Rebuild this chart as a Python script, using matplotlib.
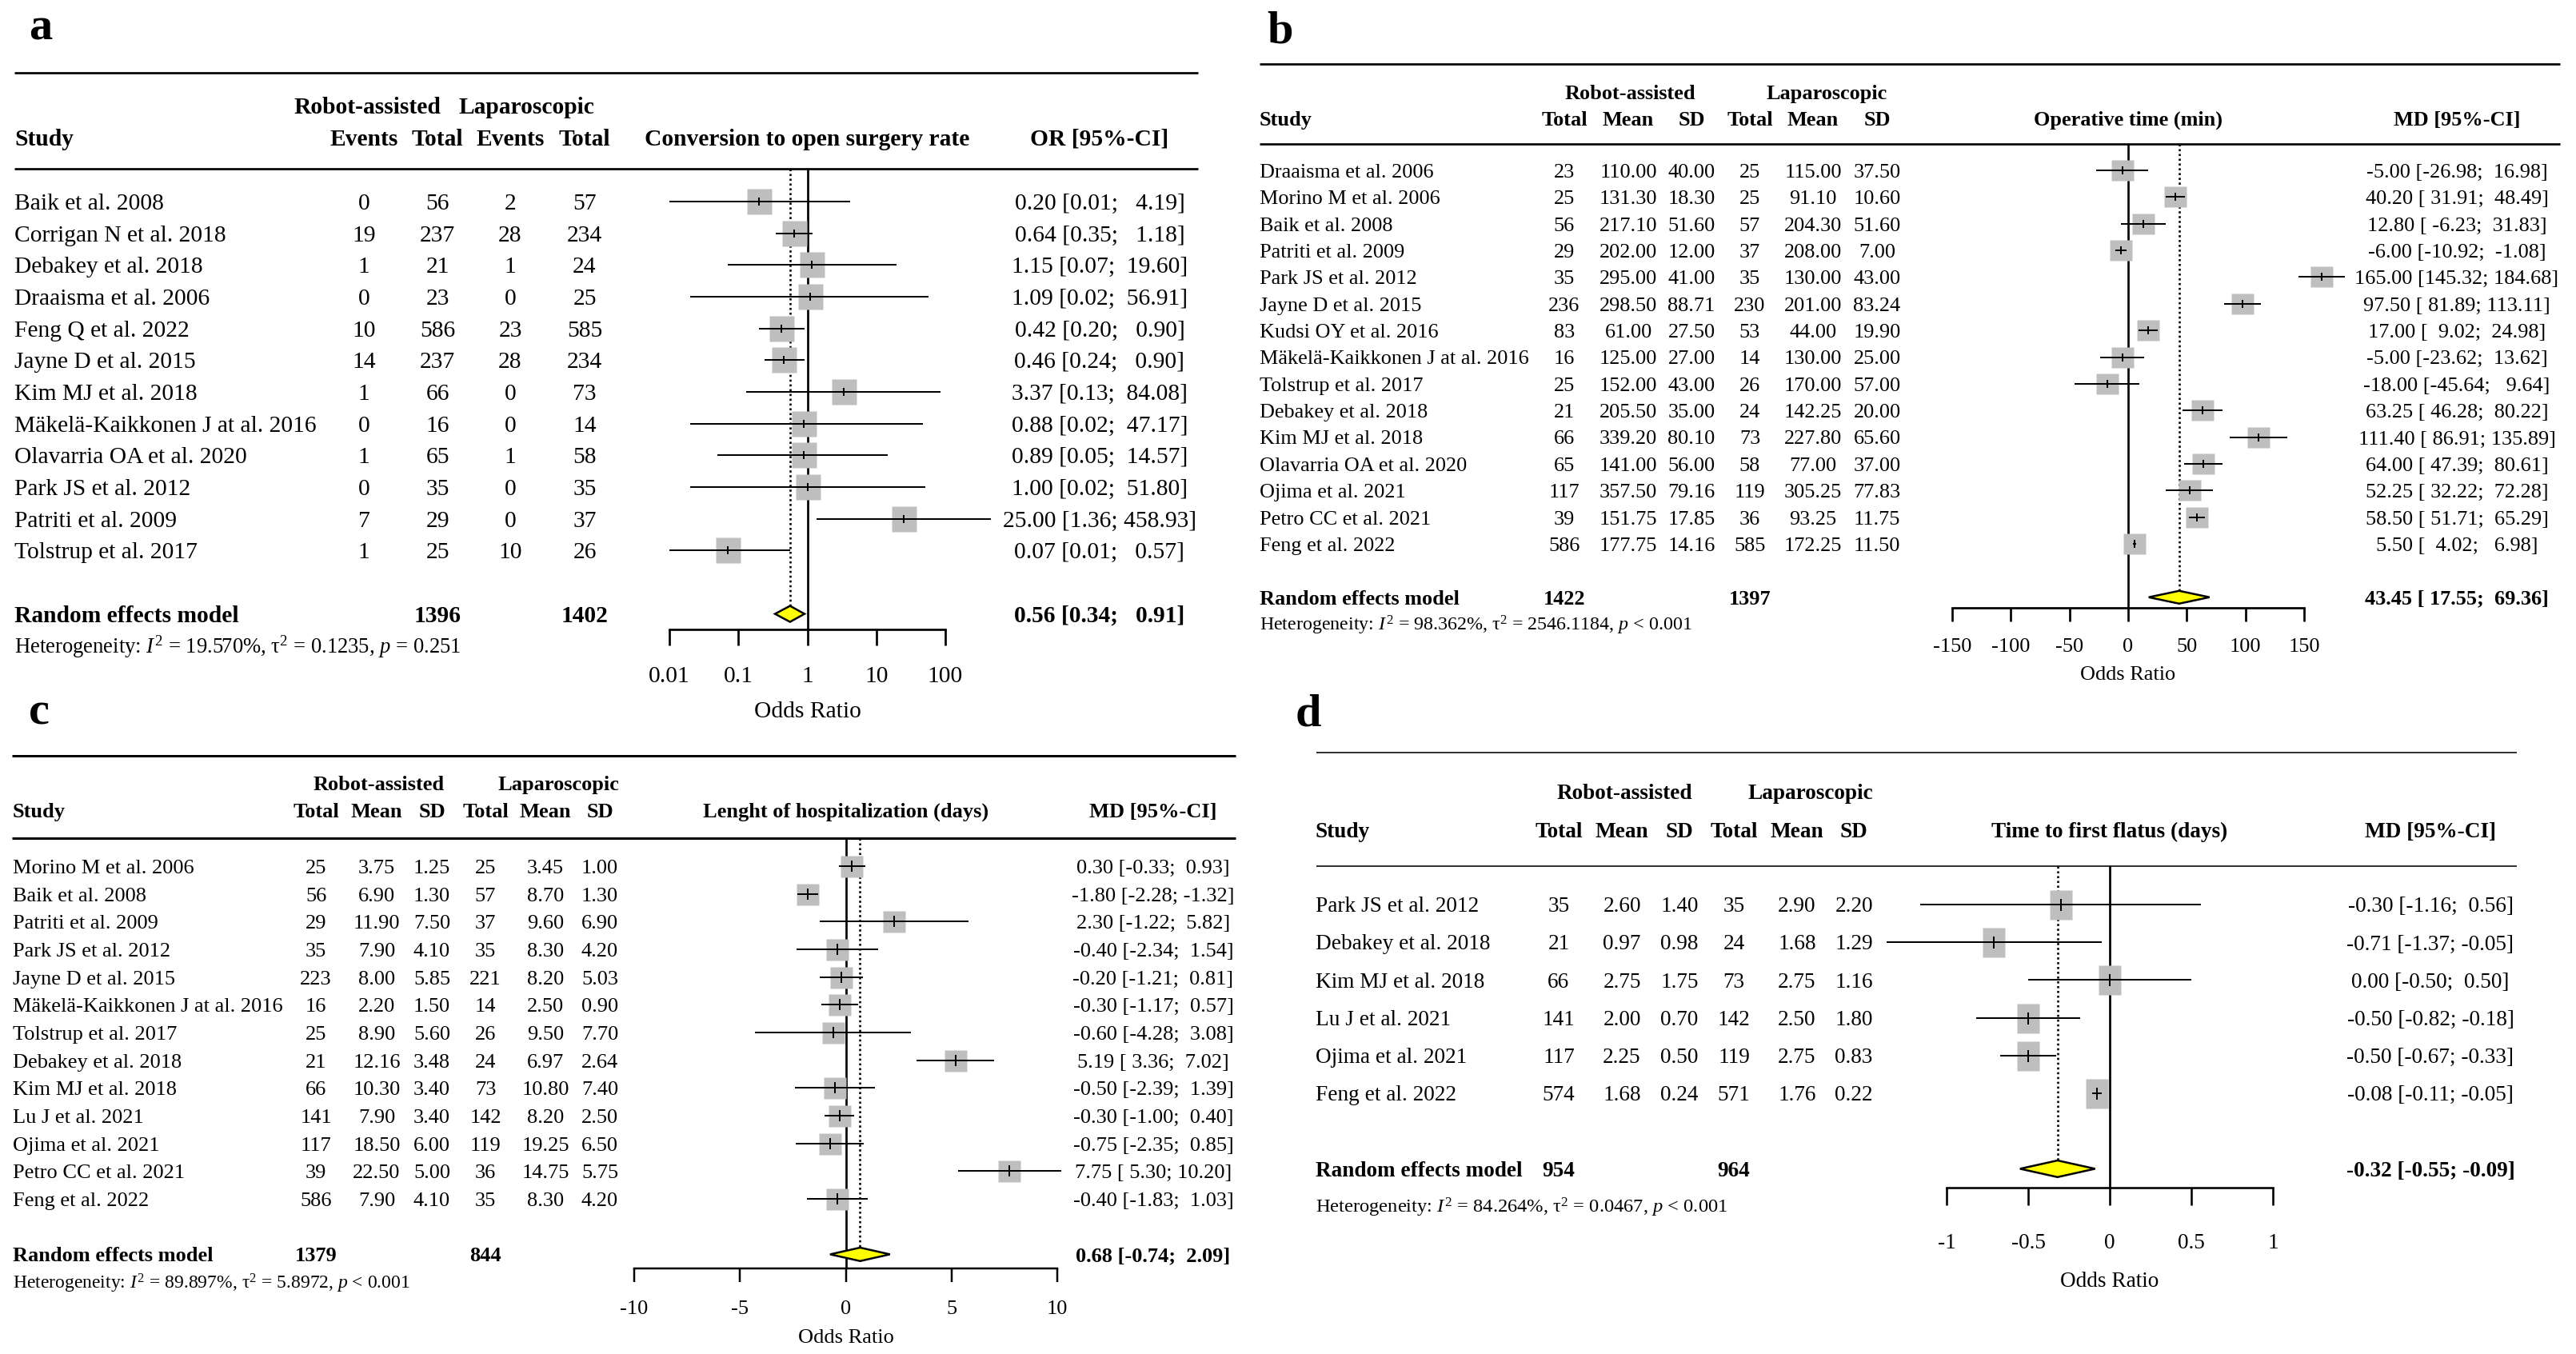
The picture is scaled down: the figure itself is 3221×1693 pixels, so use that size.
import numpy as np
import matplotlib
matplotlib.use('Agg')
import matplotlib.pyplot as plt
from matplotlib.ticker import NullLocator

W, H, DPI = 3221, 1693, 100
PX = 72.0 / DPI  # one pixel in points

plt.rcParams['font.family'] = ['Liberation Serif', 'DejaVu Serif']
plt.rcParams['mathtext.fontset'] = 'custom'
plt.rcParams['mathtext.rm'] = 'Liberation Serif'
plt.rcParams['mathtext.it'] = 'Liberation Serif:italic'
plt.rcParams['mathtext.bf'] = 'Liberation Serif:bold'

GREY = '#BEBEBE'
YELLOW = '#FFFF00'

# ---- a: conversion to open surgery rate
a_study = ['Baik et al. 2008', 'Corrigan N et al. 2018', 'Debakey et al. 2018', 'Draaisma et al. 2006',
           'Feng Q et al. 2022', 'Jayne D et al. 2015', 'Kim MJ et al. 2018',
           'Mäkelä-Kaikkonen J at al. 2016', 'Olavarria OA et al. 2020', 'Park JS et al. 2012',
           'Patriti et al. 2009', 'Tolstrup et al. 2017']
a_ev_r = [0, 19, 1, 0, 10, 14, 1, 0, 1, 0, 7, 1]
a_n_r = [56, 237, 21, 23, 586, 237, 66, 16, 65, 35, 29, 25]
a_ev_l = [2, 28, 1, 0, 23, 28, 0, 0, 1, 0, 0, 10]
a_n_l = [57, 234, 24, 25, 585, 234, 73, 14, 58, 35, 37, 26]
a_or = [0.20, 0.64, 1.15, 1.09, 0.42, 0.46, 3.37, 0.88, 0.89, 1.00, 25.00, 0.07]
a_lo = [0.01, 0.35, 0.07, 0.02, 0.20, 0.24, 0.13, 0.02, 0.05, 0.02, 1.36, 0.01]
a_hi = [4.19, 1.18, 19.60, 56.91, 0.90, 0.90, 84.08, 47.17, 14.57, 51.80, 458.93, 0.57]
a_pooled = [0.56, 0.34, 0.91]
a_het = ('19.570', '0.1235', '= 0.251')

# ---- b: operative time
b_study = ['Draaisma et al. 2006', 'Morino M et al. 2006', 'Baik et al. 2008', 'Patriti et al. 2009',
           'Park JS et al. 2012', 'Jayne D et al. 2015', 'Kudsi OY et al. 2016',
           'Mäkelä-Kaikkonen J at al. 2016', 'Tolstrup et al. 2017', 'Debakey et al. 2018',
           'Kim MJ et al. 2018', 'Olavarria OA et al. 2020', 'Ojima et al. 2021',
           'Petro CC et al. 2021', 'Feng et al. 2022']
b_n_r = [23, 25, 56, 29, 35, 236, 83, 16, 25, 21, 66, 65, 117, 39, 586]
b_m_r = [110.00, 131.30, 217.10, 202.00, 295.00, 298.50, 61.00, 125.00, 152.00, 205.50, 339.20,
         141.00, 357.50, 151.75, 177.75]
b_sd_r = [40.00, 18.30, 51.60, 12.00, 41.00, 88.71, 27.50, 27.00, 43.00, 35.00, 80.10, 56.00,
          79.16, 17.85, 14.16]
b_n_l = [25, 25, 57, 37, 35, 230, 53, 14, 26, 24, 73, 58, 119, 36, 585]
b_m_l = [115.00, 91.10, 204.30, 208.00, 130.00, 201.00, 44.00, 130.00, 170.00, 142.25, 227.80,
         77.00, 305.25, 93.25, 172.25]
b_sd_l = [37.50, 10.60, 51.60, 7.00, 43.00, 83.24, 19.90, 25.00, 57.00, 20.00, 65.60, 37.00,
          77.83, 11.75, 11.50]
b_md = [-5.00, 40.20, 12.80, -6.00, 165.00, 97.50, 17.00, -5.00, -18.00, 63.25, 111.40, 64.00,
        52.25, 58.50, 5.50]
b_lo = [-26.98, 31.91, -6.23, -10.92, 145.32, 81.89, 9.02, -23.62, -45.64, 46.28, 86.91, 47.39,
        32.22, 51.71, 4.02]
b_hi = [16.98, 48.49, 31.83, -1.08, 184.68, 113.11, 24.98, 13.62, 9.64, 80.22, 135.89, 80.61,
        72.28, 65.29, 6.98]
b_pooled = [43.45, 17.55, 69.36]
b_het = ('98.362', '2546.1184', '< 0.001')

# ---- c: length of hospitalization
c_study = ['Morino M et al. 2006', 'Baik et al. 2008', 'Patriti et al. 2009', 'Park JS et al. 2012',
           'Jayne D et al. 2015', 'Mäkelä-Kaikkonen J at al. 2016', 'Tolstrup et al. 2017',
           'Debakey et al. 2018', 'Kim MJ et al. 2018', 'Lu J et al. 2021', 'Ojima et al. 2021',
           'Petro CC et al. 2021', 'Feng et al. 2022']
c_n_r = [25, 56, 29, 35, 223, 16, 25, 21, 66, 141, 117, 39, 586]
c_m_r = [3.75, 6.90, 11.90, 7.90, 8.00, 2.20, 8.90, 12.16, 10.30, 7.90, 18.50, 22.50, 7.90]
c_sd_r = [1.25, 1.30, 7.50, 4.10, 5.85, 1.50, 5.60, 3.48, 3.40, 3.40, 6.00, 5.00, 4.10]
c_n_l = [25, 57, 37, 35, 221, 14, 26, 24, 73, 142, 119, 36, 35]
c_m_l = [3.45, 8.70, 9.60, 8.30, 8.20, 2.50, 9.50, 6.97, 10.80, 8.20, 19.25, 14.75, 8.30]
c_sd_l = [1.00, 1.30, 6.90, 4.20, 5.03, 0.90, 7.70, 2.64, 7.40, 2.50, 6.50, 5.75, 4.20]
c_md = [0.30, -1.80, 2.30, -0.40, -0.20, -0.30, -0.60, 5.19, -0.50, -0.30, -0.75, 7.75, -0.40]
c_lo = [-0.33, -2.28, -1.22, -2.34, -1.21, -1.17, -4.28, 3.36, -2.39, -1.00, -2.35, 5.30, -1.83]
c_hi = [0.93, -1.32, 5.82, 1.54, 0.81, 0.57, 3.08, 7.02, 1.39, 0.40, 0.85, 10.20, 1.03]
c_pooled = [0.68, -0.74, 2.09]
c_het = ('89.897', '5.8972', '< 0.001')

# ---- d: time to first flatus
d_study = ['Park JS et al. 2012', 'Debakey et al. 2018', 'Kim MJ et al. 2018', 'Lu J et al. 2021',
           'Ojima et al. 2021', 'Feng et al. 2022']
d_n_r = [35, 21, 66, 141, 117, 574]
d_m_r = [2.60, 0.97, 2.75, 2.00, 2.25, 1.68]
d_sd_r = [1.40, 0.98, 1.75, 0.70, 0.50, 0.24]
d_n_l = [35, 24, 73, 142, 119, 571]
d_m_l = [2.90, 1.68, 2.75, 2.50, 2.75, 1.76]
d_sd_l = [2.20, 1.29, 1.16, 1.80, 0.83, 0.22]
d_md = [-0.30, -0.71, 0.00, -0.50, -0.50, -0.08]
d_lo = [-1.16, -1.37, -0.50, -0.82, -0.67, -0.11]
d_hi = [0.56, -0.05, 0.50, -0.18, -0.33, -0.05]
d_pooled = [-0.32, -0.55, -0.09]
d_het = ('84.264', '0.0467', '< 0.001')

# layout of each panel, in pixels of the final image (y from the top)
LAY_A = dict(label='a', label_xy=(36, 50), rule_x=(18, 1498), rules=(91, 211), rule_lw=2.7,
             groups=[('Robot-assisted', 459), ('Laparoscopic', 658)], grp_y=132, head_y=172,
             col_names=['Events', 'Total', 'Events', 'Total'], col_x=[455, 547, 638, 731],
             total_cols=[1, 3], title='Conversion to open surgery rate', ci_head='OR [95%-CI]',
             ci_x=1375, study_x=18, row0=252, sp=39.66, fs=29.5, het_fs=26.6,
             fx=(837, 1182), xlim=(0.01, 100), log=True, ticks=[0.01, 0.1, 1, 10, 100],
             ticklabels=['0.01', '0.1', '1', '10', '100'], axis_y=787, tick_len=20,
             tick_lab_y=843, xlab_y=887, axis_lw=2.7, sq=(31, 32), dh=10, tick_h=10)
LAY_B = dict(label='b', label_xy=(1584, 53), rule_x=(1575, 3201), rules=(80, 180), rule_lw=2.7,
             groups=[('Robot-assisted', 2038), ('Laparoscopic', 2284)], grp_y=115, head_y=148,
             col_names=['Total', 'Mean', 'SD', 'Total', 'Mean', 'SD'],
             col_x=[1956, 2036, 2115, 2188, 2267, 2347], total_cols=[0, 3],
             title='Operative time (min)', ci_head='MD [95%-CI]', ci_x=3072, study_x=1575,
             row0=213, sp=33.36, fs=26.2, het_fs=24, fx=(2441, 2881), xlim=(-150, 150), log=False,
             ticks=[-150, -100, -50, 0, 50, 100, 150],
             ticklabels=['-150', '-100', '-50', '0', '50', '100', '150'], axis_y=760, tick_len=17,
             tick_lab_y=807, xlab_y=841, axis_lw=2.7, sq=(28, 26), dh=8, tick_h=10)
LAY_C = dict(label='c', label_xy=(36, 906), rule_x=(15, 1545), rules=(945, 1048), rule_lw=3.0,
             groups=[('Robot-assisted', 474), ('Laparoscopic', 698)], grp_y=979, head_y=1013,
             col_names=['Total', 'Mean', 'SD', 'Total', 'Mean', 'SD'],
             col_x=[395, 471, 540, 607, 682, 750], total_cols=[0, 3],
             title='Lenght of hospitalization (days)', ci_head='MD [95%-CI]', ci_x=1442,
             study_x=16, row0=1083, sp=34.67, fs=26.4, het_fs=23.6, fx=(793, 1322),
             xlim=(-10, 10), log=False, ticks=[-10, -5, 0, 5, 10],
             ticklabels=['-10', '-5', '0', '5', '10'], axis_y=1586, tick_len=17,
             tick_lab_y=1635, xlab_y=1670, axis_lw=2.5, sq=(28, 27), dh=8.4, tick_h=14)
LAY_D = dict(label='d', label_xy=(1620, 908), rule_x=(1646, 3147), rules=(941, 1083), rule_lw=1.6,
             groups=[('Robot-assisted', 2031), ('Laparoscopic', 2264)], grp_y=990, head_y=1038,
             col_names=['Total', 'Mean', 'SD', 'Total', 'Mean', 'SD'],
             col_x=[1949, 2028, 2100, 2168, 2247, 2318], total_cols=[0, 3],
             title='Time to first flatus (days)', ci_head='MD [95%-CI]', ci_x=3039,
             study_x=1645, row0=1131, sp=47.2, fs=27.3, het_fs=24.5, fx=(2434, 2842),
             xlim=(-1, 1), log=False, ticks=[-1, -0.5, 0, 0.5, 1],
             ticklabels=['-1', '-0.5', '0', '0.5', '1'], axis_y=1485, tick_len=22,
             tick_lab_y=1551, xlab_y=1600, axis_lw=2.6, sq=(28, 37), dh=10.4, tick_h=15)

fig = plt.figure(figsize=(W / DPI, H / DPI), dpi=DPI)
bg = fig.add_axes([0, 0, 1, 1])
bg.set_xlim(0, W)
bg.set_ylim(H, 0)
bg.axis('off')


def put(x, y, s, fs, ha='center', bold=False):
    # y = middle of the capitals, pixels from the top
    bg.text(x, y + 0.338 * fs, s, ha=ha, va='baseline', fontsize=fs * PX,
            fontweight='bold' if bold else 'normal')


def fmt_ci(est, lo, hi):
    wl = max(len(f'{v:.2f}') for v in lo)
    wh = max(len(f'{v:.2f}') for v in hi)
    return [f'{e:.2f} [{l:>{wl}.2f}; {h:>{wh}.2f}]' for e, l, h in zip(est, lo, hi)]


def het_text(h):
    i2, tau2, p = h
    return (r'Heterogeneity: $I^2$ = ' + i2 + r'%, $\mathrm{\tau}^2$ = ' + tau2
            + r', $p$ ' + p)


def panel(L, study, columns, est, lo, hi, pooled, het):
    fs = L['fs']
    n = len(study)
    row = lambda i: L['row0'] + L['sp'] * i

    bg.text(L['label_xy'][0], L['label_xy'][1], L['label'], fontsize=42, fontweight='bold',
            ha='left', va='baseline')
    bg.hlines(L['rules'], L['rule_x'][0], L['rule_x'][1], color='black', lw=L['rule_lw'] * PX)

    for name, x in L['groups']:
        put(x, L['grp_y'], name, fs, bold=True)
    put(L['study_x'], L['head_y'], 'Study', fs, ha='left', bold=True)
    for name, x in zip(L['col_names'], L['col_x']):
        put(x, L['head_y'], name, fs, bold=True)
    fx0, fx1 = L['fx']
    mid = (fx0 + fx1) / 2
    put(mid, L['head_y'], L['title'], fs, bold=True)
    put(L['ci_x'], L['head_y'], L['ci_head'], fs, bold=True)

    ci_txt = fmt_ci(list(est) + [pooled[0]], list(lo) + [pooled[1]], list(hi) + [pooled[2]])
    for i in range(n):
        put(L['study_x'], row(i), study[i], fs, ha='left')
        for col, x in zip(columns, L['col_x']):
            put(x, row(i), col[i], fs)
        put(L['ci_x'], row(i), ci_txt[i], fs)

    yr = row(n + 1)
    put(L['study_x'], yr, 'Random effects model', fs, ha='left', bold=True)
    for k in L['total_cols']:
        put(L['col_x'][k], yr, str(sum(int(v) for v in columns[k])), fs, bold=True)
    put(L['ci_x'], yr, ci_txt[-1], fs, bold=True)
    put(L['study_x'], row(n + 2), het_text(het), L['het_fs'], ha='left')

    # forest part: x in effect units, y in row units
    ay, top = L['axis_y'], L['rules'][1]
    ax = fig.add_axes([fx0 / W, 1 - ay / H, (fx1 - fx0) / W, (ay - top) / H])
    ax.patch.set_visible(False)
    if L['log']:
        ax.set_xscale('log')
    ax.set_xlim(L['xlim'])
    ylo, yhi = (ay - L['row0']) / L['sp'], (top - L['row0']) / L['sp']
    ax.set_ylim(ylo, yhi)

    ys = np.arange(n)
    null = 1 if L['log'] else 0
    ax.axvline(null, color='black', lw=2.7 * PX, zorder=1)
    sw, sh = L['sq']
    box = [(-sw / 2, -sh / 2), (sw / 2, -sh / 2), (sw / 2, sh / 2), (-sw / 2, sh / 2), (-sw / 2, -sh / 2)]
    ax.plot(est, ys, ls='none', marker=box, ms=max(sw, sh) * PX, mfc=GREY, mec='none',
            zorder=2, clip_on=False)
    ax.hlines(ys, lo, hi, color='black', lw=2.0 * PX, zorder=3, clip_on=False)
    ax.plot(est, ys, ls='none', marker='|', ms=L['tick_h'] * PX, mec='black', mew=2.0 * PX,
            zorder=4, clip_on=False)

    e, l, h = pooled
    dh = L['dh'] / L['sp']
    ax.fill([l, e, h, e], [n + 1, n + 1 - dh, n + 1, n + 1 + dh], fc=YELLOW, ec='black',
            lw=2.5 * PX, zorder=4, clip_on=False)
    ax.plot([e, e], [yhi, n + 1 - dh], color='black', lw=2.6 * PX, ls=(0, (1, 1.3)), zorder=1)

    for s in ['top', 'right', 'left']:
        ax.spines[s].set_visible(False)
    ax.spines['bottom'].set_linewidth(L['axis_lw'] * PX)
    ax.set_yticks([])
    ax.set_xticks(L['ticks'], labels=L['ticklabels'])
    ax.xaxis.set_minor_locator(NullLocator())
    pad = L['tick_lab_y'] - ay - L['tick_len'] - 0.338 * fs
    ax.tick_params(axis='x', direction='out', length=L['tick_len'] * PX,
                   width=L['axis_lw'] * PX, pad=pad * PX, labelsize=fs * PX)
    put(mid, L['xlab_y'], 'Odds Ratio', fs)


f2 = lambda v: [f'{x:.2f}' for x in v]
s = lambda v: [str(x) for x in v]

panel(LAY_A, a_study, [s(a_ev_r), s(a_n_r), s(a_ev_l), s(a_n_l)], a_or, a_lo, a_hi, a_pooled, a_het)
panel(LAY_B, b_study, [s(b_n_r), f2(b_m_r), f2(b_sd_r), s(b_n_l), f2(b_m_l), f2(b_sd_l)],
      b_md, b_lo, b_hi, b_pooled, b_het)
panel(LAY_C, c_study, [s(c_n_r), f2(c_m_r), f2(c_sd_r), s(c_n_l), f2(c_m_l), f2(c_sd_l)],
      c_md, c_lo, c_hi, c_pooled, c_het)
panel(LAY_D, d_study, [s(d_n_r), f2(d_m_r), f2(d_sd_r), s(d_n_l), f2(d_m_l), f2(d_sd_l)],
      d_md, d_lo, d_hi, d_pooled, d_het)

fig.savefig('out.png', dpi=DPI)
